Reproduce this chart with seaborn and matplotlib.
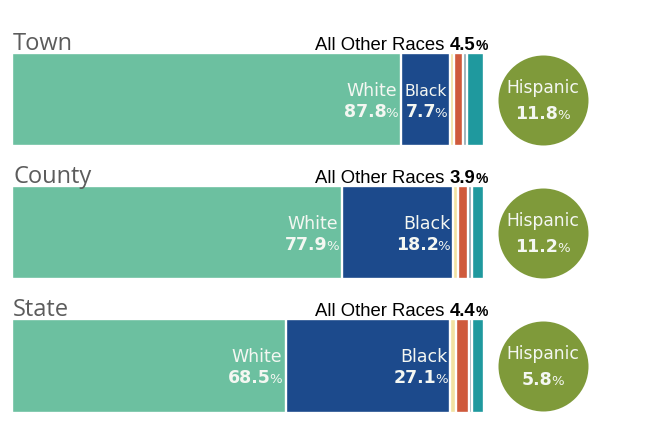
import numpy as np
import pandas as pd
import matplotlib
matplotlib.use("Agg")
import matplotlib.pyplot as plt
from matplotlib.transforms import offset_copy
import seaborn as sns

# ---- data ----
categories = ["Town", "County", "State"]
white_pct = [87.8, 77.9, 68.5]
black_pct = [7.7, 18.2, 27.1]
other_pct = [4.5, 3.9, 4.4]
hispanic_pct = [11.8, 11.2, 5.8]

# displayed segment lengths (share of the full bar length)
white_len = [82.5, 70.0, 58.0]
black_len = [10.3, 23.5, 34.9]
yellow_len = [0.9, 1.0, 1.1]
red_len = [1.9, 2.2, 2.8]
gray_len = [0.75, 0.8, 0.7]
teal_len = [3.65, 2.5, 2.5]

seg_colors = ["#6cc0a0", "#1c4a8c", "#f2e2a2", "#cf5a3c", "#8fa8b2", "#1f999e"]
circle_color = "#7f9a3a"
label_gray = "#5c5c5c"
in_text = "#f4f7f2"

sns.set_style("white")
plt.rcParams["font.family"] = ["DejaVu Sans"]

fig = plt.figure(figsize=(6.56, 4.37), dpi=100)
ax = fig.add_axes([0, 0, 1, 1])

lengths = np.array([white_len, black_len, yellow_len, red_len, gray_len, teal_len])
cum = np.cumsum(lengths, axis=0)
for k in reversed(range(len(lengths))):
    df = pd.DataFrame({"cat": categories, "val": cum[k]})
    sns.barplot(data=df, x="val", y="cat", orient="h", color=seg_colors[k],
                saturation=1, width=0.7, edgecolor="white", linewidth=1.7,
                errorbar=None, ax=ax)

px = 4.72  # pixels per bar unit
circle_x = (542.5 - 12) / px
sns.scatterplot(x=[circle_x] * len(categories), y=categories, s=4199,
                color=circle_color, linewidth=0, legend=False, ax=ax, zorder=3)

ax.set_xlim(-12 / px, (656 - 12) / px)
ax.set_ylim(2.533, -0.747)
ax.axis("off")

renderer = fig.canvas.get_renderer()


def text_width(s, **kw):
    t = ax.text(0, 0, s, **kw)
    w = t.get_window_extent(renderer).width
    t.remove()
    return w


def rich(x, y, pieces, align, dx=0, dy=0, kern=0.0, max_w=None):
    pieces = [(s, dict(kw)) for s, kw in pieces]
    widths = [text_width(s, **kw) for s, kw in pieces]
    total = sum(widths) + kern * (len(pieces) - 1)
    if max_w is not None and total > max_w:
        f = max_w / total
        for s, kw in pieces:
            kw["fontsize"] = kw["fontsize"] * f
        widths = [text_width(s, **kw) for s, kw in pieces]
        total = sum(widths) + kern * (len(pieces) - 1)
    off = {"right": -total, "center": -total / 2, "left": 0}[align] + dx
    for (s, kw), w in zip(pieces, widths):
        tr = offset_copy(ax.transData, fig=fig, x=off, y=dy, units="dots")
        ax.text(x, y, s, transform=tr, ha="left", va="baseline", zorder=5, **kw)
        off += w + kern


for i, cat in enumerate(categories):
    # category label
    ax.text(1 / px, i, cat, transform=offset_copy(ax.transData, fig=fig, x=0, y=50, units="dots"),
            ha="left", va="baseline", fontsize=17, color=label_gray, family="Open Sans")
    # all other races
    rich(100.8, i, [("All Other Races", dict(fontsize=13.3, family="Liberation Sans", color="black")),
                    (" ", dict(fontsize=13.3, family="Liberation Sans")),
                    (f"{other_pct[i]}", dict(fontsize=13.3, family="Liberation Sans", weight="bold", color="black")),
                    ("%", dict(fontsize=10, family="Liberation Sans", weight="bold", color="black"))],
         "right", dy=50)
    # white
    wend = white_len[i]
    rich(wend, i, [("White", dict(fontsize=12.5, color=in_text))], "right", dx=-4, dy=4)
    rich(wend, i, [(f"{white_pct[i]}", dict(fontsize=12.5, weight="bold", color=in_text)),
                   ("%", dict(fontsize=9.5, color=in_text))], "right", dx=-4, dy=-17, kern=-1.5)
    # black (shrunk to fit the segment if needed)
    bend = white_len[i] + black_len[i]
    avail = black_len[i] * px - 6
    rich(bend, i, [("Black", dict(fontsize=12.5, color=in_text))], "right", dx=-3, dy=4, max_w=avail)
    rich(bend, i, [(f"{black_pct[i]}", dict(fontsize=12.5, weight="bold", color=in_text)),
                   ("%", dict(fontsize=9.5, color=in_text))], "right", dx=-3, dy=-17, kern=-1.5)
    # hispanic circle
    rich(circle_x, i, [("Hispanic", dict(fontsize=12.3, color=in_text))], "center", dy=7)
    rich(circle_x, i, [(f"{hispanic_pct[i]}", dict(fontsize=12.5, weight="bold", color=in_text)),
                       ("%", dict(fontsize=9.5, color=in_text))], "center", dy=-19, kern=-1.5)

fig.savefig("out.png", dpi=100)
